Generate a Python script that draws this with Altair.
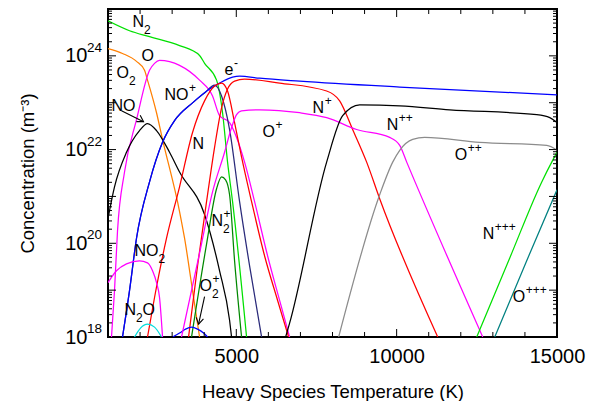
import altair as alt
import pandas as pd

# ---------------- data ----------------
# temperature (K) and log10 of concentration (m^-3)
N2_T = [1000, 1671, 2295, 3231, 3855, 4011, 4385, 4572, 4728, 4884, 5321]
N2_L = [24.747, 24.536, 24.41, 24.22, 24.009, 23.84, 23.482, 22.786, 21.732, 20.888, 18.0]

O2_T = [1000, 1452, 1889, 2139, 2232, 2513, 2700, 3231, 3387, 3636, 3855]
O2_L = [24.156, 24.051, 23.882, 23.693, 23.482, 22.786, 22.217, 20.678, 20.108, 18.991, 18.0]

O_T = [1109, 1203, 1296, 1515, 1889, 2295, 2451, 2607, 3231, 3855, 4260, 4479, 4791, 5009, 5259, 5571, 5977, 6351, 6663]
O_L = [18.0, 18.991, 20.256, 21.521, 22.638, 23.693, 23.84, 23.903, 23.798, 23.482, 23.144, 22.723, 22.575, 22.259, 21.732, 20.888, 19.729, 18.78, 18.0]

NO_T = [1000, 1203, 1577, 1983, 2232, 2513, 2919, 3231, 4011, 4479, 4791, 4853]
NO_L = [20.53, 21.205, 21.943, 22.406, 22.554, 22.406, 21.943, 21.521, 20.614, 19.413, 18.358, 18.0]

NOP_T = [1452, 1671, 1889, 2295, 2700, 3075, 3636, 4011, 4323, 4541, 4791, 5103, 5415, 5789]
NOP_L = [18.0, 18.991, 20.108, 21.31, 22.154, 22.617, 22.997, 23.208, 23.376, 23.144, 22.428, 20.888, 19.518, 18.0]

E_T = [1452, 1671, 1889, 2295, 2700, 3075, 3636, 4167, 4479, 4884, 5103, 5727, 6975, 10096, 15000]
E_L = [18.0, 18.991, 20.108, 21.31, 22.154, 22.617, 22.997, 23.292, 23.419, 23.545, 23.566, 23.524, 23.461, 23.334, 23.166]

N_T = [2232, 2451, 2825, 3231, 3636, 4011, 4323, 4541, 4728, 4947, 5165, 5477, 5883, 6289, 6631]
N_L = [18.0, 18.843, 20.108, 21.205, 22.364, 23.039, 23.355, 23.419, 23.25, 22.575, 21.837, 20.888, 19.729, 18.78, 18.0]

NP_T = [3512, 3792, 4073, 4323, 4541, 4728, 4947, 5259, 6351, 7817, 8223, 8628, 9065, 9471, 11281]
NP_L = [18.0, 19.518, 20.888, 22.048, 22.891, 23.292, 23.461, 23.503, 23.419, 23.25, 23.039, 22.428, 21.732, 20.952, 18.0]

N2P_T = [3605, 4073, 4385, 4541, 4666, 4791, 4947, 5165]
N2P_L = [18.0, 19.982, 21.163, 21.416, 21.352, 21.036, 19.623, 18.0]

O2P_T = [3012, 3231, 3418, 3605, 3792, 3980, 4104]
O2P_L = [18.0, 18.084, 18.169, 18.211, 18.169, 18.084, 18.0]

N2O_T = [1827, 2014, 2232, 2451, 2669]
N2O_L = [18.0, 18.19, 18.274, 18.211, 18.0]

NO2_T = [1000, 1265, 1577, 1983, 2232, 2389, 2513, 2607, 2700]
NO2_L = [19.16, 19.413, 19.56, 19.623, 19.581, 19.413, 19.16, 18.843, 18.0]

OP_T = [3293, 3855, 4260, 4635, 4853, 5009, 5165, 5727, 6975, 7817, 8753, 9783, 10096, 10314, 12685]
OP_L = [18.0, 19.792, 21.099, 21.943, 22.47, 22.744, 22.828, 22.849, 22.786, 22.681, 22.428, 22.259, 22.09, 21.732, 18.0]

NPP_T = [6538, 6663, 7817, 8317, 8847, 10096, 11655, 14369, 14775, 15000]
NPP_L = [18.0, 18.295, 21.732, 22.723, 22.955, 22.934, 22.849, 22.744, 22.681, 22.575]

OPP_T = [8192, 9471, 9877, 10096, 10501, 10875, 12591, 14681, 15000]
OPP_L = [18.0, 21.036, 21.732, 21.985, 22.217, 22.259, 22.154, 22.09, 21.985]

NPPP_T = [12497, 13527, 14525, 14868, 15000]
NPPP_L = [18.0, 19.687, 21.31, 21.774, 21.943]

OPPP_T = [13059, 14026, 15000]
OPPP_L = [18.0, 19.581, 21.141]

SERIES = [
    ("N2", N2_T, N2_L), ("O2", O2_T, O2_L), ("O", O_T, O_L), ("NO", NO_T, NO_L),
    ("NO+", NOP_T, NOP_L), ("e-", E_T, E_L), ("N", N_T, N_L), ("N+", NP_T, NP_L),
    ("N2+", N2P_T, N2P_L), ("O2+", O2P_T, O2P_L), ("N2O", N2O_T, N2O_L),
    ("NO2", NO2_T, NO2_L), ("O+", OP_T, OP_L), ("N++", NPP_T, NPP_L),
    ("O++", OPP_T, OPP_L), ("N+++", NPPP_T, NPPP_L), ("O+++", OPPP_T, OPPP_L),
]

COLORS = {
    "N2": "#00e000", "O2": "#ff7f00", "O": "#ff00ff", "NO": "#000000",
    "NO+": "#2a2a7a", "e-": "#0000ff", "N": "#ff0000", "N+": "#ff0000",
    "N2+": "#008800", "O2+": "#0000ff", "N2O": "#00dcdc", "NO2": "#ff00ff",
    "O+": "#ff00ff", "N++": "#000000", "O++": "#8c8c8c", "N+++": "#00e000",
    "O+++": "#008080",
}

# species labels: main text, subscript, superscript, T of left edge, log10 conc. of baseline
LAB_BASE = ["N", "O", "O", "NO", "e", "NO", "N", "N", "NO", "N", "O", "O",
            "N", "O", "N", "O", "N", "O"]
LAB_SUB = ["2", "", "2", "", "", "", "", "2", "2", "2", "", "2",
           "", "", "", "", "", ""]
LAB_SUP = ["", "", "", "+", "-", "", "", "+", "", "", "", "+",
           "+", "+", "++", "++", "+++", "+++"]
LAB_T = [1764, 2045, 1265, 2763, 4635, 1109, 3636, 4229, 1827, 1515, 2075, 3855,
         7380, 5820, 9689, 11811, 12684, 13620]
LAB_L = [24.62, 23.882, 23.524, 23.06, 23.587, 22.828, 22.006, 20.361, 19.729,
         18.464, 18.464, 18.991, 22.786, 22.259, 22.428, 21.774, 20.087, 18.738]

# arrows (NO, O2+): start and tip
ARROW_T0 = [1421, 4011]
ARROW_L0 = [22.828, 18.864]
ARROW_T1 = [2108, 3824]
ARROW_L1 = [22.596, 18.274]
ARROW_ANGLE = [31, 102]

X_TICKS = list(range(2000, 15000, 1000))
X_MAJOR = [5000, 10000]
Y_DECADES = [19, 20, 21, 22, 23, 24]
Y_LABELED = [18, 20, 22, 24]

# ---------------- chart ----------------
W, H = 449, 328
FONT = "Liberation Sans"
LAB_SIZE, SCRIPT_SIZE = 16, 12
T_PER_PX = 14000 / W
ADV = {"N": 0.722, "O": 0.778, "e": 0.556}  # Arial advance widths (em)

xscale = alt.Scale(domain=[1000, 15000], nice=False, zero=False)
yscale = alt.Scale(type="log", domain=[1e18, 1e25], nice=False)

xenc = alt.X("T:Q", scale=xscale, axis=alt.Axis(
    values=[5000, 10000, 15000], format="d", labelFontSize=20, labelPadding=9,
    labelOverlap=False, labelFlush=False, tickSize=0,
    title="Heavy Species Temperature (K)", titleFontSize=18.5, titlePadding=16))
yenc = alt.Y("n:Q", scale=yscale, axis=alt.Axis(
    values=[10.0 ** k for k in Y_LABELED], labelExpr="'10'", labelFontSize=20,
    labelPadding=21, labelOverlap=False, labelFlush=False, tickSize=0,
    title="Concentration (m⁻³)", titleFontSize=18.5, titleX=-81, titleY=H / 2,
    titleAlign="center", titleBaseline="middle", titleAngle=270))

layers = []
for name, ts, ls in SERIES:
    df = pd.DataFrame({"T": ts, "n": [10 ** v for v in ls]})
    layers.append(
        alt.Chart(df).mark_line(color=COLORS[name], strokeWidth=1.25, clip=True,
                                interpolate="monotone")
        .encode(x=xenc, y=yenc)
    )

# species labels (main part + sub/superscripts)
lab = pd.DataFrame({"T": LAB_T, "n": [10 ** v for v in LAB_L],
                    "base": LAB_BASE, "sub": LAB_SUB, "sup": LAB_SUP})
lab["w"] = [sum(ADV[c] for c in b) * LAB_SIZE for b in LAB_BASE]
scr = pd.DataFrame({"T": lab["T"] + lab["w"] * T_PER_PX, "n": lab["n"],
                    "sub": lab["sub"], "sup": lab["sup"]})
layers.append(
    alt.Chart(lab).mark_text(align="left", baseline="alphabetic", font=FONT,
                             fontSize=LAB_SIZE, color="black")
    .encode(x=xenc, y=yenc, text="base:N")
)
layers.append(
    alt.Chart(scr).mark_text(align="left", baseline="alphabetic", font=FONT,
                             fontSize=SCRIPT_SIZE, color="black", dy=7)
    .encode(x=xenc, y=yenc, text="sub:N")
)
layers.append(
    alt.Chart(scr).mark_text(align="left", baseline="alphabetic", font=FONT,
                             fontSize=SCRIPT_SIZE, color="black", dy=-8, dx=0.5)
    .encode(x=xenc, y=yenc, text="sup:N")
)

# arrows
arr_df = pd.DataFrame({
    "T": ARROW_T0, "n": [10 ** v for v in ARROW_L0],
    "T1": ARROW_T1, "n1": [10 ** v for v in ARROW_L1],
})
layers.append(
    alt.Chart(arr_df).mark_rule(color="black", strokeWidth=1.1)
    .encode(x=xenc, y=yenc, x2="T1:Q", y2="n1:Q")
)
head_df = pd.DataFrame({"T": ARROW_T1, "n": [10 ** v for v in ARROW_L1], "ang": ARROW_ANGLE})
layers.append(
    alt.Chart(head_df).mark_point(shape="M-1,-0.6L0,0L-1,0.6", filled=False,
                                  color="black", size=150, strokeWidth=1.1, opacity=1)
    .encode(x=xenc, y=yenc, angle=alt.Angle("ang:Q", scale=None))
)

# exponents of the y tick labels
exp_df = pd.DataFrame({"n": [10.0 ** k for k in Y_LABELED], "e": [str(k) for k in Y_LABELED]})
layers.append(
    alt.Chart(exp_df).mark_text(align="left", baseline="alphabetic", font=FONT,
                                fontSize=13.5, color="black", dy=-4)
    .encode(y=yenc, x=alt.value(-21), text="e:N")
)

# inward tick marks on all four sides
xt = pd.DataFrame({"T": X_TICKS, "major": [t in X_MAJOR for t in X_TICKS]})
for is_major, ln in [(True, 8), (False, 5)]:
    d = xt[xt["major"] == is_major]
    layers.append(alt.Chart(d).mark_rule(color="black", strokeWidth=1)
                  .encode(x=xenc, y=alt.value(H), y2=alt.value(H - ln)))
    layers.append(alt.Chart(d).mark_rule(color="black", strokeWidth=1)
                  .encode(x=xenc, y=alt.value(0), y2=alt.value(ln)))

ymaj = pd.DataFrame({"n": [10.0 ** k for k in Y_DECADES]})
ymin = pd.DataFrame({"n": [m * 10.0 ** k for k in range(18, 25) for m in range(2, 10)]})
for d, ln in [(ymaj, 8), (ymin, 4)]:
    layers.append(alt.Chart(d).mark_rule(color="black", strokeWidth=1)
                  .encode(y=yenc, x=alt.value(0), x2=alt.value(ln)))
    layers.append(alt.Chart(d).mark_rule(color="black", strokeWidth=1)
                  .encode(y=yenc, x=alt.value(W), x2=alt.value(W - ln)))

chart = alt.layer(*layers).properties(
    width=W, height=H,
    autosize=alt.AutoSizeParams(type="none"),
    padding={"left": 100, "top": 1, "right": 29, "bottom": 64},
).configure_view(
    stroke="black", strokeWidth=2
).configure_axis(
    grid=False, domain=False, ticks=False, labelFont=FONT, titleFont=FONT,
    labelColor="black", titleColor="black", titleFontWeight="normal"
).configure_text(font=FONT)

chart.save("out.html", embed_options={"renderer": "svg", "actions": False})
